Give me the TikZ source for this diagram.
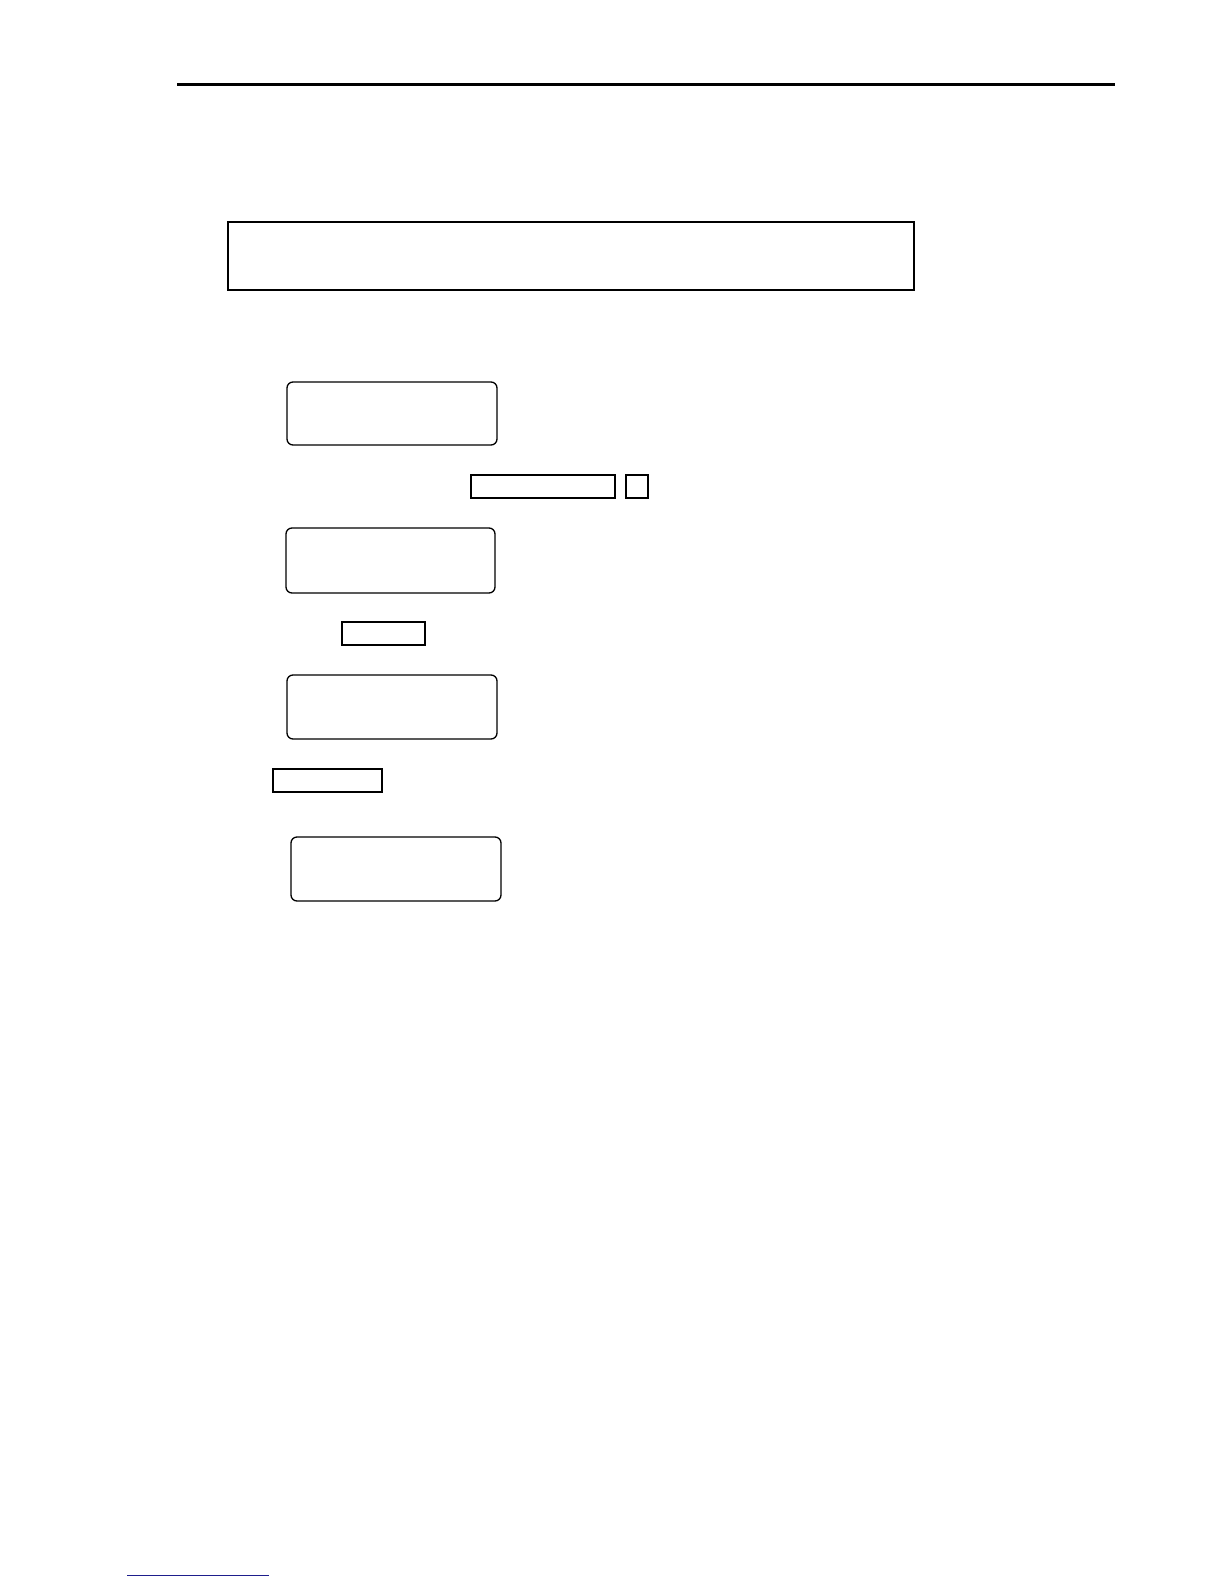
\documentclass[tikz,border=0pt]{standalone}
\begin{document}
\begin{tikzpicture}[x=1pt,y=-1pt,
  plainbox/.style={draw=black,line width=1.3pt,rectangle,inner sep=0pt,outer sep=0pt},
  screen/.style={draw=black,line width=1.3pt,rectangle,rounded corners=6pt,inner sep=0pt,outer sep=0pt},
  keybox/.style={draw=black,line width=1.4pt,rectangle,inner sep=0pt,outer sep=0pt}]
\useasboundingbox[fill=white] (0,0) rectangle (1224,1584);
% header rule
\coordinate (hl) at (177,85);
\coordinate (hr) at (1115,85);
\draw[line width=3pt] (hl) -- (hr);
% top note box
\node[plainbox,minimum width=686pt,minimum height=68pt] (note) at (571,256) {};
% screens and keys
\node[screen,minimum width=210pt,minimum height=63pt] (s1) at (392,413.5) {};
\node[keybox,minimum width=144pt,minimum height=23pt] (k1) at (543,486.5) {};
\node[keybox,minimum width=22pt,minimum height=23pt] (k2) at (637,486.5) {};
\node[screen,minimum width=209pt,minimum height=65pt] (s2) at (390.5,560.5) {};
\node[keybox,minimum width=83pt,minimum height=23pt] (k3) at (383.5,633.5) {};
\node[screen,minimum width=210pt,minimum height=64pt] (s3) at (392,707) {};
\node[keybox,minimum width=109pt,minimum height=23pt] (k4) at (327.5,780.5) {};
\node[screen,minimum width=210pt,minimum height=64pt] (s4) at (396,869) {};
% footer link underline
\coordinate (fl) at (127,1575);
\coordinate (fr) at (269,1575);
\draw[line width=1pt,draw={rgb,255:red,30;green,30;blue,140}] (fl) -- (fr);
\end{tikzpicture}
\end{document}
